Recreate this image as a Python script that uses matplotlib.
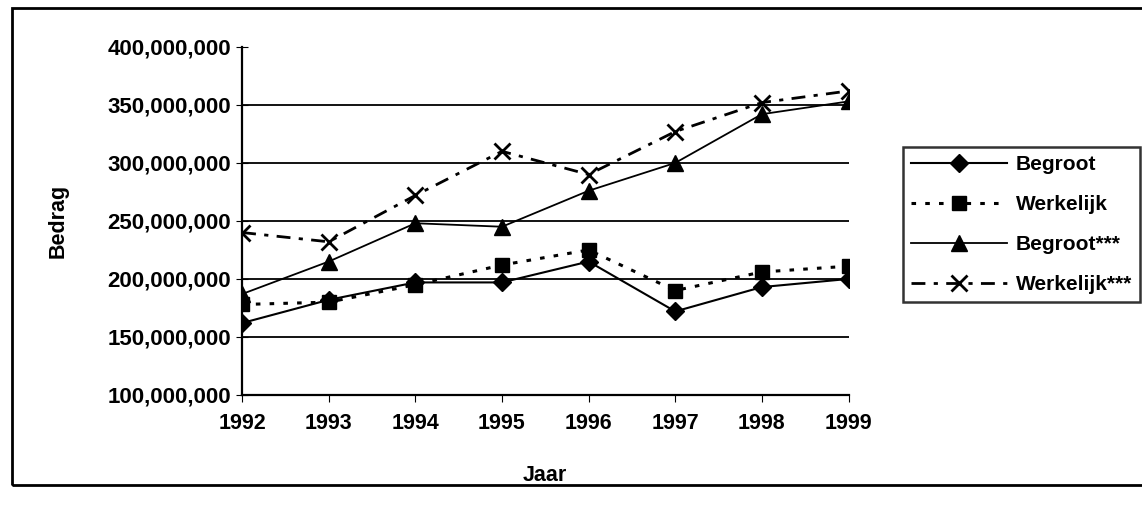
import matplotlib.pyplot as plt
from matplotlib.patches import Rectangle
from matplotlib.ticker import FuncFormatter

plt.rcParams['font.family'] = ['Liberation Sans', 'DejaVu Sans']
plt.rcParams['font.weight'] = 'bold'

# Jaren en bedragen
jaren = [1992, 1993, 1994, 1995, 1996, 1997, 1998, 1999]
begroot = [162e6, 182e6, 197e6, 197e6, 215e6, 172e6, 193e6, 200e6]
werkelijk = [178e6, 180e6, 195e6, 212e6, 225e6, 190e6, 206e6, 211e6]
begroot_sterren = [187e6, 215e6, 248e6, 245e6, 276e6, 300e6, 342e6, 353e6]
werkelijk_sterren = [240e6, 232e6, 272e6, 310e6, 290e6, 327e6, 352e6, 362e6]

fig = plt.figure(figsize=(11.42, 5.18), dpi=100)
ax = fig.add_axes([0.212, 0.2375, 0.531, 0.672])

# buitenrand van de grafiek
fig.patches.append(Rectangle((12 / 1142, 1 - 485 / 518), 1.2, 477 / 518,
                             transform=fig.transFigure, fill=False,
                             edgecolor='black', linewidth=2))

ax.plot(jaren, begroot, color='black', linestyle='-', linewidth=1.5,
        marker='D', markersize=9, label='Begroot')
ax.plot(jaren, werkelijk, color='black', linestyle=(0, (1.5, 3)), linewidth=2.2,
        marker='s', markersize=10, label='Werkelijk')
ax.plot(jaren, begroot_sterren, color='black', linestyle='-', linewidth=1.3,
        marker='^', markersize=11, label='Begroot***')
ax.plot(jaren, werkelijk_sterren, color='black', linestyle=(0, (5, 3, 1.5, 3)),
        linewidth=2, marker='x', markersize=11, markeredgewidth=2,
        label='Werkelijk***')

ax.set_xlim(1992, 1999)
ax.set_ylim(100e6, 400e6)
ax.set_xticks(jaren)
ax.set_yticks(range(100000000, 400000001, 50000000))
ax.yaxis.set_major_formatter(FuncFormatter(lambda v, p: '{:,.0f}'.format(v)))
ax.tick_params(axis='y', direction='inout', length=8, labelsize=16, pad=4)
ax.tick_params(axis='x', direction='out', length=5, labelsize=15.5, pad=8)

ax.grid(axis='y', color='black', linewidth=1.3)
ax.get_ygridlines()[-1].set_visible(False)
ax.get_ygridlines()[0].set_visible(False)
for s in ['top', 'right']:
    ax.spines[s].set_visible(False)
ax.spines['left'].set_linewidth(1.6)
ax.spines['bottom'].set_linewidth(1.6)

ax.set_xlabel('Jaar', fontsize=15.5, fontweight='bold', labelpad=22)
ax.set_ylabel('Bedrag', fontsize=15.5, fontweight='bold', labelpad=28)

leg = fig.legend(loc='upper left', bbox_to_anchor=(903 / 1142, 1 - 147 / 518),
                 fontsize=15, handlelength=4.6, labelspacing=1.0,
                 frameon=True, fancybox=False, edgecolor='black',
                 borderaxespad=0, borderpad=0.4, handletextpad=0.4)
leg.get_frame().set_linewidth(1.8)

fig.savefig('out.png', dpi=100)
